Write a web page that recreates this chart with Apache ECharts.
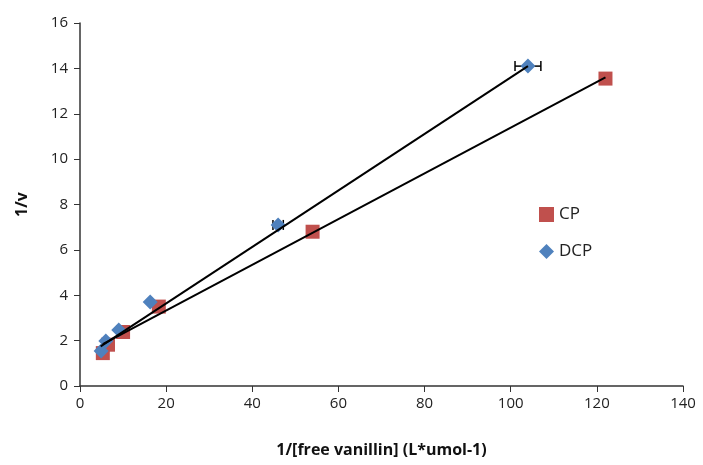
<!DOCTYPE html>
<html>
<head>
<meta charset="utf-8">
<script src="https://cdn.jsdelivr.net/npm/echarts@6/dist/echarts.min.js"></script>
<style>
  html, body { margin: 0; padding: 0; background: #fff; }
  #chart { width: 703px; height: 465px; }
</style>
</head>
<body>
<div id="chart"></div>
<script>
// data
var cpX = [5.3, 6.5, 10, 18.3, 54, 122]
var cpY = [1.45, 1.82, 2.38, 3.5, 6.8, 13.55]
var dcpX = [4.9, 6, 9, 16.3, 46, 104]
var dcpY = [1.54, 1.98, 2.47, 3.7, 7.1, 14.1]
var dcpXErr = [0.2, 0.2, 0.2, 0.3, 1.2, 3]
// trendline end points
var cpTrend = [[5.3, 1.85], [122, 13.6]]
var dcpTrend = [[4.8, 1.75], [104, 14.1]]

var fontName = 'Open Sans, Noto Sans, sans-serif'
var chart = echarts.init(document.getElementById('chart'))

function pairs(xs, ys) {
  return xs.map(function(x, i) { return [x, ys[i]] })
}

var errData = dcpX.map(function(x, i) { return [x - dcpXErr[i], x + dcpXErr[i], dcpY[i]] })

chart.setOption({
  animation: false,
  grid: { left: 80, right: 20, top: 23, bottom: 79 },
  legend: {
    orient: 'vertical',
    left: 534,
    top: 201,
    itemWidth: 15,
    itemHeight: 15,
    itemGap: 20,
    textStyle: { fontFamily: fontName, fontSize: 17, color: '#222' },
    data: [
      { name: 'CP', icon: 'rect' },
      { name: 'DCP', icon: 'diamond' }
    ]
  },
  xAxis: {
    type: 'value',
    min: 0,
    max: 140,
    interval: 20,
    name: '1/[free vanillin] (L*umol-1)',
    nameLocation: 'middle',
    nameGap: 56,
    nameTextStyle: { fontFamily: fontName, fontSize: 16, fontWeight: 'bold', color: '#111' },
    axisLine: { lineStyle: { color: '#333', width: 1.5 } },
    axisTick: { show: true, length: 6, lineStyle: { color: '#333' } },
    axisLabel: { fontFamily: fontName, fontSize: 15, color: '#222', margin: 10 },
    splitLine: { show: false }
  },
  yAxis: {
    type: 'value',
    min: 0,
    max: 16,
    interval: 2,
    name: '1/v',
    nameLocation: 'middle',
    nameGap: 50,
    nameTextStyle: { fontFamily: fontName, fontSize: 16, fontWeight: 'bold', color: '#111' },
    axisLine: { show: true, lineStyle: { color: '#333', width: 1.5 } },
    axisTick: { show: true, length: 6, lineStyle: { color: '#333' } },
    axisLabel: { fontFamily: fontName, fontSize: 15, color: '#222', margin: 12 },
    splitLine: { show: false }
  },
  series: [
    {
      name: 'CP',
      type: 'scatter',
      symbol: 'rect',
      symbolSize: 14,
      itemStyle: { color: '#C0504D', opacity: 1 },
      data: pairs(cpX, cpY),
      z: 3
    },
    {
      type: 'custom',
      name: 'DCP err',
      data: errData,
      z: 4,
      renderItem: function(params, api) {
        var a = api.coord([api.value(0), api.value(2)])
        var b = api.coord([api.value(1), api.value(2)])
        var c = 5
        var style = { stroke: '#000', lineWidth: 1.5 }
        return {
          type: 'group',
          children: [
            { type: 'line', shape: { x1: a[0], y1: a[1], x2: b[0], y2: b[1] }, style: style },
            { type: 'line', shape: { x1: a[0], y1: a[1] - c, x2: a[0], y2: a[1] + c }, style: style },
            { type: 'line', shape: { x1: b[0], y1: b[1] - c, x2: b[0], y2: b[1] + c }, style: style }
          ]
        }
      }
    },
    {
      name: 'DCP',
      type: 'scatter',
      symbol: 'diamond',
      symbolSize: 15,
      itemStyle: { color: '#4F81BD', opacity: 1 },
      data: pairs(dcpX, dcpY),
      z: 5
    },
    {
      type: 'line',
      name: 'CP trend',
      data: cpTrend,
      symbol: 'none',
      lineStyle: { color: '#000', width: 2 },
      z: 6
    },
    {
      type: 'line',
      name: 'DCP trend',
      data: dcpTrend,
      symbol: 'none',
      lineStyle: { color: '#000', width: 2 },
      z: 6
    }
  ]
})
</script>
</body>
</html>
